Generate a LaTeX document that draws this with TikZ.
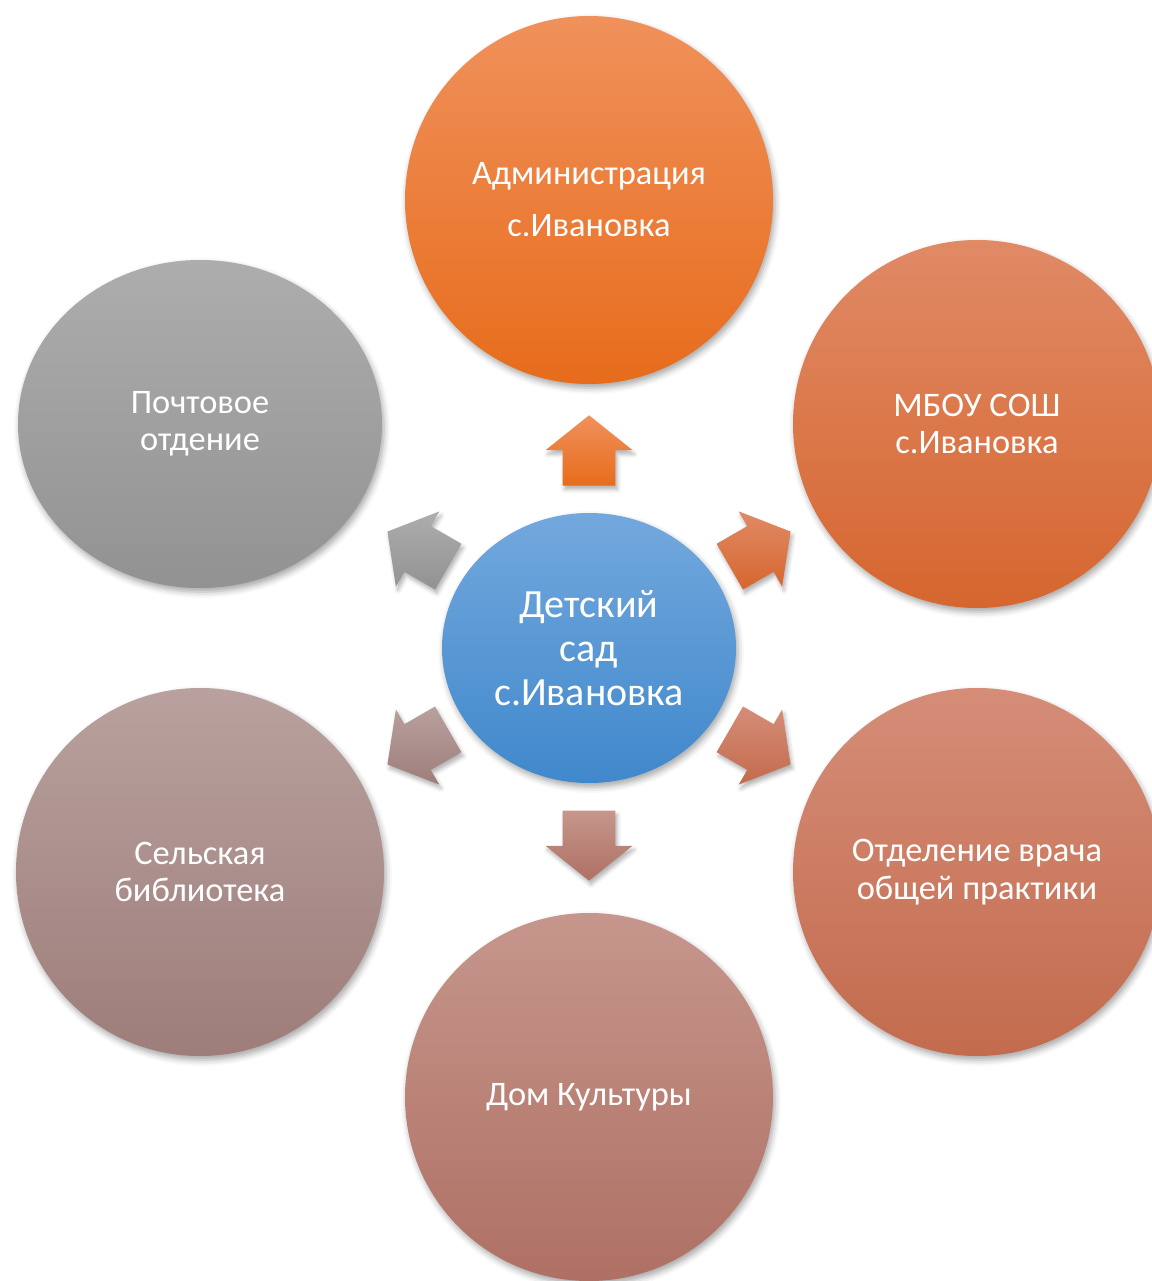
\documentclass[tikz,border=0pt]{standalone}
\usepackage{fontspec}
\setmainfont{Carlito}
\usetikzlibrary{positioning}
\usetikzlibrary{shapes.arrows}
\usetikzlibrary{shapes.geometric}
\usetikzlibrary{shadows.blur}
\tikzset{
	place/.style={circle, inner sep=0pt, minimum size=184pt, align=center, text=white, font=\fontsize{17.2pt}{18.75pt}\selectfont, blur shadow={shadow xshift=1pt, shadow yshift=-2pt, shadow blur radius=3pt, shadow opacity=35}},
	hub/.style={ellipse, inner sep=0pt, minimum width=147pt, minimum height=135pt, align=center, text=white, font=\fontsize{20pt}{22pt}\selectfont, top color=kgtop, bottom color=kgbot, blur shadow={shadow xshift=1pt, shadow yshift=-2pt, shadow blur radius=3pt, shadow opacity=35}},
	% block arrows round the hub, #1 = direction
	blockarrow/.style={single arrow, inner xsep=12.05pt, inner ysep=13pt, single arrow head extend=8.5pt, single arrow tip angle=102.5, minimum width=0pt, minimum height=0pt, rotate=#1, blur shadow={shadow xshift=1pt, shadow yshift=-2pt, shadow blur radius=2pt, shadow opacity=30}},
	admcol/.style={top color=admtop, bottom color=admbot},
	schcol/.style={top color=schtop, bottom color=schbot},
	doccol/.style={top color=doctop, bottom color=docbot},
	cultcol/.style={top color=culttop, bottom color=cultbot},
	libcol/.style={top color=libtop, bottom color=libbot},
	postcol/.style={top color=posttop, bottom color=postbot},
}
\definecolor{kgtop}{HTML}{73A8DD}
\definecolor{kgbot}{HTML}{4088CC}
\definecolor{admtop}{HTML}{F0915B}
\definecolor{admbot}{HTML}{E76C1C}
\definecolor{schtop}{HTML}{E08A66}
\definecolor{schbot}{HTML}{D6662F}
\definecolor{doctop}{HTML}{D58D78}
\definecolor{docbot}{HTML}{C36B4D}
\definecolor{culttop}{HTML}{C6968C}
\definecolor{cultbot}{HTML}{AF7064}
\definecolor{libtop}{HTML}{B8A19E}
\definecolor{libbot}{HTML}{9E7D7A}
\definecolor{posttop}{HTML}{ADADAD}
\definecolor{postbot}{HTML}{929292}

\begin{document}
\begin{tikzpicture}[on grid]
	\clip (-294.5pt,324pt) rectangle (281.5pt,-316.5pt);
	
	\node (kg) [hub] {Детский\\сад\\с.Ивановка};
	
	\node (adm) [place, admcol, above=224pt of kg, font=\fontsize{17.2pt}{26pt}\selectfont] {Администрация\\с.Ивановка};
	\node (school) [place, schcol, above right=112pt and 194pt of kg] {МБОУ СОШ\\с.Ивановка};
	\node (doctor) [place, doccol, below right=112pt and 194pt of kg] {Отделение врача\\общей практики};
	\node (culture) [place, cultcol, below=224.5pt of kg] {Дом Культуры};
	\node (library) [place, libcol, below left=112pt and 194.5pt of kg] {Сельская\\библиотека};
	\node (post) [place, postcol, ellipse, minimum width=182pt, minimum height=164pt, above left=112pt and 194.5pt of kg] {Почтовое\\отдение};
	
	\node (toadm) [admcol, blockarrow=90, above=93.5pt of kg] {};
	\node (toschool) [schcol, blockarrow=30, above right=46.8pt and 81pt of kg] {};
	\node (todoctor) [doccol, blockarrow=-30, below right=46.8pt and 81pt of kg] {};
	\node (toculture) [cultcol, blockarrow=-90, below=93.5pt of kg] {};
	\node (tolibrary) [libcol, blockarrow=-150, below left=46.8pt and 81pt of kg] {};
	\node (topost) [postcol, blockarrow=150, above left=46.8pt and 81pt of kg] {};
	
\end{tikzpicture}
\end{document}
